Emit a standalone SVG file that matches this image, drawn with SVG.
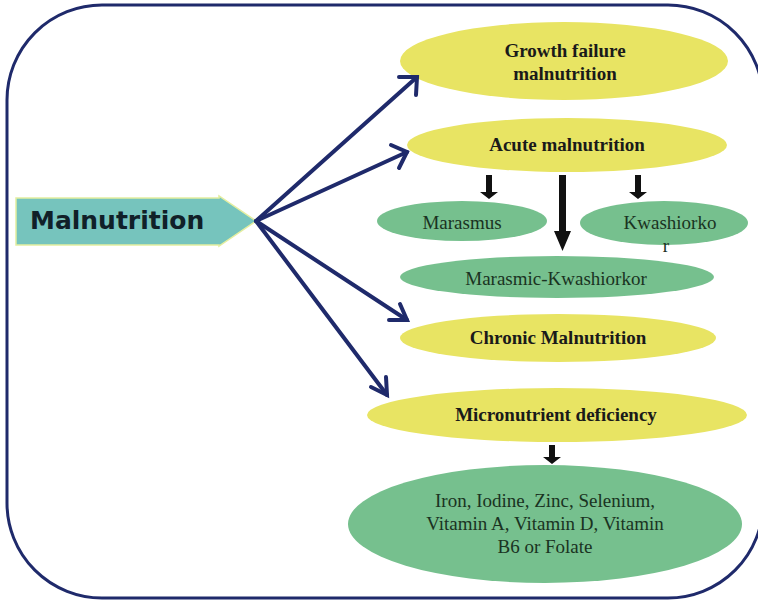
<svg xmlns="http://www.w3.org/2000/svg" width="758" height="601" viewBox="0 0 758 601">
  <defs>
    <style>
      .frame { fill: #ffffff; stroke: #1f2a6b; stroke-width: 3; }
      .yellow { fill: #e8e463; }
      .green { fill: #76c08e; }
      .blue-link { fill: none; stroke: #1f2a6b; stroke-width: 4; stroke-linecap: round; }
      .blue-head { fill: none; stroke: #1f2a6b; stroke-width: 4; stroke-linecap: round; stroke-linejoin: miter; }
      .down { fill: #111111; }
      .bold { font-family: "Liberation Serif", "Times New Roman", serif; font-weight: bold; font-size: 19px; fill: #1a1a1a; text-anchor: middle; }
      .plain { font-family: "Liberation Serif", "Times New Roman", serif; font-size: 19px; fill: #1a3322; text-anchor: middle; }
      .title { font-family: "DejaVu Sans", Verdana, sans-serif; font-weight: bold; font-size: 25px; fill: #102028; }
    </style>
  </defs>

  <!-- outer frame -->
  <rect class="frame" x="7" y="5" width="756" height="593" rx="95" ry="95"/>

  <!-- source node -->
  <g id="malnutrition">
    <path d="M16,198 H219 V196 L256,221 L219,246 V245 H16 Z" fill="#76c4bd" stroke="#e4eea0" stroke-width="1.5"/>
    <text class="title" x="30" y="229">Malnutrition</text>
  </g>

  <g id="growth-failure">
    <ellipse class="yellow" cx="564" cy="61" rx="164" ry="39"/>
    <text class="bold" x="565" y="57">Growth failure</text>
    <text class="bold" x="565" y="80">malnutrition</text>
  </g>

  <g id="acute">
    <ellipse class="yellow" cx="567" cy="145" rx="160" ry="27"/>
    <text class="bold" x="567" y="151">Acute malnutrition</text>
  </g>

  <g id="marasmus">
    <ellipse class="green" cx="462" cy="221" rx="85" ry="20"/>
    <text class="plain" x="462" y="229">Marasmus</text>
  </g>

  <g id="kwashiorkor">
    <ellipse class="green" cx="664" cy="223" rx="84" ry="22"/>
    <text class="plain" x="670" y="229">Kwashiorko</text>
    <text class="plain" x="666" y="252">r</text>
  </g>

  <g id="marasmic-kwashiorkor">
    <ellipse class="green" cx="557" cy="277" rx="157" ry="21"/>
    <text class="plain" x="556" y="285">Marasmic-Kwashiorkor</text>
  </g>

  <g id="chronic">
    <ellipse class="yellow" cx="558" cy="338" rx="158" ry="24"/>
    <text class="bold" x="558" y="344">Chronic Malnutrition</text>
  </g>

  <g id="micronutrient">
    <ellipse class="yellow" cx="557" cy="415" rx="190" ry="27"/>
    <text class="bold" x="556" y="421">Micronutrient deficiency</text>
  </g>

  <g id="micronutrients-list">
    <ellipse class="green" cx="545" cy="524" rx="197" ry="59"/>
    <text class="plain" x="545" y="507">Iron, Iodine, Zinc, Selenium,</text>
    <text class="plain" x="545" y="530">Vitamin A, Vitamin D, Vitamin</text>
    <text class="plain" x="545" y="553">B6 or Folate</text>
  </g>

  <g id="connectors">
    <!-- blue links from the source node -->
    <line class="blue-link" x1="256" y1="221" x2="417" y2="77"/>
    <polyline class="blue-head" points="399,77 417,77 416,95"/>
    <line class="blue-link" x1="256" y1="221" x2="407" y2="152"/>
    <polyline class="blue-head" points="391,145 407,152 399,168"/>
    <line class="blue-link" x1="256" y1="221" x2="407" y2="320"/>
    <polyline class="blue-head" points="400,304 407,320 389,320"/>
    <line class="blue-link" x1="256" y1="221" x2="387" y2="395"/>
    <polyline class="blue-head" points="386,377 387,395 371,387"/>

    <!-- black downward arrows -->
    <path class="down" d="M486,175 H492 V192 H498 L489,199 L480,192 H486 Z"/>
    <path class="down" d="M559,175 H566 V231 H571 L562.5,251 L554,231 H559 Z"/>
    <path class="down" d="M635,175 H641 V192 H647 L638,199 L629,192 H635 Z"/>
    <path class="down" d="M549,445 H555 V457 H561 L552,464 L543,457 H549 Z"/>
  </g>
</svg>
